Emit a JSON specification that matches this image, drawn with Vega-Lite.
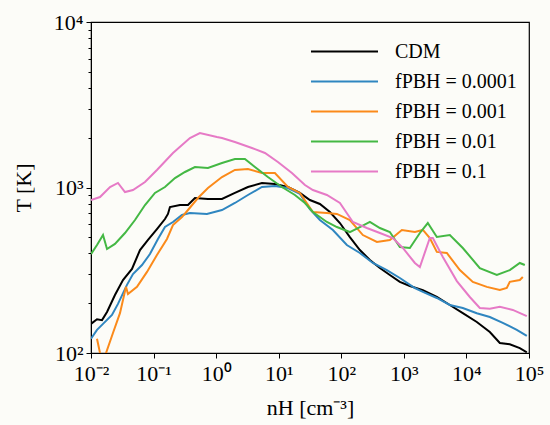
{
  "$schema": "https://vega.github.io/schema/vega-lite/v6.json",
  "width": 438,
  "height": 331,
  "autosize": "none",
  "padding": {"left": 91, "top": 22, "right": 21, "bottom": 72},
  "background": "#fcfcf8",
  "data": {"values": [
    {"s":"CDM","n":0.01,"T":150},{"s":"CDM","n":0.01247,"T":160},{"s":"CDM","n":0.015,"T":158},{"s":"CDM","n":0.01803,"T":177},{"s":"CDM","n":0.02415,"T":224},{"s":"CDM","n":0.03243,"T":276},{"s":"CDM","n":0.04519,"T":322},{"s":"CDM","n":0.06067,"T":419},{"s":"CDM","n":0.08147,"T":482},{"s":"CDM","n":0.1132,"T":561},{"s":"CDM","n":0.1521,"T":645},{"s":"CDM","n":0.1698,"T":692},{"s":"CDM","n":0.1828,"T":762},{"s":"CDM","n":0.2642,"T":784},{"s":"CDM","n":0.3548,"T":784},{"s":"CDM","n":0.4581,"T":864},{"s":"CDM","n":0.7396,"T":852},{"s":"CDM","n":1.239,"T":852},{"s":"CDM","n":1.995,"T":927},{"s":"CDM","n":3.221,"T":1007},{"s":"CDM","n":5.395,"T":1065},{"s":"CDM","n":8.69,"T":1050},{"s":"CDM","n":14.03,"T":1007},{"s":"CDM","n":21.83,"T":927},{"s":"CDM","n":31.48,"T":840},{"s":"CDM","n":45.5,"T":795},{"s":"CDM","n":65.77,"T":711},{"s":"CDM","n":95.06,"T":610},{"s":"CDM","n":137.1,"T":502},{"s":"CDM","n":198.2,"T":419},{"s":"CDM","n":286.4,"T":365},{"s":"CDM","n":414,"T":326},{"s":"CDM","n":597,"T":296},{"s":"CDM","n":863,"T":269},{"s":"CDM","n":1247,"T":254},{"s":"CDM","n":2014,"T":240},{"s":"CDM","n":3365,"T":218},{"s":"CDM","n":5433,"T":195},{"s":"CDM","n":8750,"T":174},{"s":"CDM","n":14655,"T":154},{"s":"CDM","n":23659,"T":134},{"s":"CDM","n":34198,"T":115},{"s":"CDM","n":49317,"T":113},{"s":"CDM","n":71285,"T":107},{"s":"CDM","n":92257,"T":101},
    {"s":"fPBH = 0.0001","n":0.01,"T":122},{"s":"fPBH = 0.0001","n":0.01247,"T":138},{"s":"fPBH = 0.0001","n":0.01556,"T":150},{"s":"fPBH = 0.0001","n":0.02163,"T":170},{"s":"fPBH = 0.0001","n":0.02698,"T":198},{"s":"fPBH = 0.0001","n":0.03758,"T":258},{"s":"fPBH = 0.0001","n":0.04688,"T":300},{"s":"fPBH = 0.0001","n":0.06531,"T":340},{"s":"fPBH = 0.0001","n":0.0875,"T":396},{"s":"fPBH = 0.0001","n":0.1175,"T":489},{"s":"fPBH = 0.0001","n":0.1521,"T":577},{"s":"fPBH = 0.0001","n":0.2042,"T":619},{"s":"fPBH = 0.0001","n":0.2844,"T":682},{"s":"fPBH = 0.0001","n":0.3811,"T":701},{"s":"fPBH = 0.0001","n":0.7129,"T":692},{"s":"fPBH = 0.0001","n":1.239,"T":731},{"s":"fPBH = 0.0001","n":1.995,"T":806},{"s":"fPBH = 0.0001","n":3.221,"T":901},{"s":"fPBH = 0.0001","n":5.395,"T":1007},{"s":"fPBH = 0.0001","n":8.69,"T":1021},{"s":"fPBH = 0.0001","n":14.03,"T":993},{"s":"fPBH = 0.0001","n":21.83,"T":914},{"s":"fPBH = 0.0001","n":31.48,"T":740},{"s":"fPBH = 0.0001","n":45.5,"T":636},{"s":"fPBH = 0.0001","n":73.45,"T":554},{"s":"fPBH = 0.0001","n":122.7,"T":449},{"s":"fPBH = 0.0001","n":198.2,"T":402},{"s":"fPBH = 0.0001","n":319.9,"T":350},{"s":"fPBH = 0.0001","n":534.6,"T":317},{"s":"fPBH = 0.0001","n":863,"T":284},{"s":"fPBH = 0.0001","n":1500,"T":247},{"s":"fPBH = 0.0001","n":2014,"T":234},{"s":"fPBH = 0.0001","n":3365,"T":215},{"s":"fPBH = 0.0001","n":5433,"T":195},{"s":"fPBH = 0.0001","n":8750,"T":187},{"s":"fPBH = 0.0001","n":14655,"T":174},{"s":"fPBH = 0.0001","n":23659,"T":165},{"s":"fPBH = 0.0001","n":38107,"T":152},{"s":"fPBH = 0.0001","n":63826,"T":138},{"s":"fPBH = 0.0001","n":92257,"T":127},
    {"s":"fPBH = 0.001","n":0.01247,"T":122},{"s":"fPBH = 0.001","n":0.01393,"T":100},{"s":"fPBH = 0.001","n":0.0155,"T":88},{"s":"fPBH = 0.001","n":0.01738,"T":100},{"s":"fPBH = 0.001","n":0.02244,"T":132},{"s":"fPBH = 0.001","n":0.02904,"T":174},{"s":"fPBH = 0.001","n":0.03622,"T":251},{"s":"fPBH = 0.001","n":0.03899,"T":227},{"s":"fPBH = 0.001","n":0.05433,"T":251},{"s":"fPBH = 0.001","n":0.07852,"T":309},{"s":"fPBH = 0.001","n":0.1132,"T":391},{"s":"fPBH = 0.001","n":0.1637,"T":489},{"s":"fPBH = 0.001","n":0.2042,"T":593},{"s":"fPBH = 0.001","n":0.2844,"T":663},{"s":"fPBH = 0.001","n":0.3548,"T":731},{"s":"fPBH = 0.001","n":0.5117,"T":864},{"s":"fPBH = 0.001","n":0.7396,"T":993},{"s":"fPBH = 0.001","n":1.239,"T":1157},{"s":"fPBH = 0.001","n":1.995,"T":1276},{"s":"fPBH = 0.001","n":3.221,"T":1294},{"s":"fPBH = 0.001","n":5.395,"T":1224},{"s":"fPBH = 0.001","n":8.69,"T":1224},{"s":"fPBH = 0.001","n":14.03,"T":1007},{"s":"fPBH = 0.001","n":21.83,"T":927},{"s":"fPBH = 0.001","n":35.16,"T":711},{"s":"fPBH = 0.001","n":58.88,"T":701},{"s":"fPBH = 0.001","n":85.11,"T":692},{"s":"fPBH = 0.001","n":137.1,"T":636},{"s":"fPBH = 0.001","n":221.3,"T":516},{"s":"fPBH = 0.001","n":370.7,"T":469},{"s":"fPBH = 0.001","n":597,"T":482},{"s":"fPBH = 0.001","n":929,"T":554},{"s":"fPBH = 0.001","n":1500,"T":538},{"s":"fPBH = 0.001","n":2014,"T":554},{"s":"fPBH = 0.001","n":2600,"T":495},{"s":"fPBH = 0.001","n":3365,"T":408},{"s":"fPBH = 0.001","n":4864,"T":402},{"s":"fPBH = 0.001","n":7852,"T":317},{"s":"fPBH = 0.001","n":12647,"T":269},{"s":"fPBH = 0.001","n":21184,"T":251},{"s":"fPBH = 0.001","n":34198,"T":240},{"s":"fPBH = 0.001","n":44157,"T":247},{"s":"fPBH = 0.001","n":49317,"T":269},{"s":"fPBH = 0.001","n":71285,"T":276},{"s":"fPBH = 0.001","n":79616,"T":288},
    {"s":"fPBH = 0.01","n":0.01,"T":396},{"s":"fPBH = 0.01","n":0.01247,"T":449},{"s":"fPBH = 0.01","n":0.01556,"T":516},{"s":"fPBH = 0.01","n":0.01803,"T":425},{"s":"fPBH = 0.01","n":0.02415,"T":456},{"s":"fPBH = 0.01","n":0.03491,"T":531},{"s":"fPBH = 0.01","n":0.05047,"T":636},{"s":"fPBH = 0.01","n":0.07295,"T":784},{"s":"fPBH = 0.01","n":0.1052,"T":927},{"s":"fPBH = 0.01","n":0.1521,"T":1007},{"s":"fPBH = 0.01","n":0.2198,"T":1141},{"s":"fPBH = 0.01","n":0.3177,"T":1241},{"s":"fPBH = 0.01","n":0.4581,"T":1330},{"s":"fPBH = 0.01","n":0.7396,"T":1312},{"s":"fPBH = 0.01","n":1.239,"T":1406},{"s":"fPBH = 0.01","n":1.995,"T":1487},{"s":"fPBH = 0.01","n":2.884,"T":1487},{"s":"fPBH = 0.01","n":4.169,"T":1330},{"s":"fPBH = 0.01","n":6.714,"T":1157},{"s":"fPBH = 0.01","n":11.25,"T":1007},{"s":"fPBH = 0.01","n":18.16,"T":901},{"s":"fPBH = 0.01","n":26.24,"T":806},{"s":"fPBH = 0.01","n":35.16,"T":711},{"s":"fPBH = 0.01","n":58.88,"T":619},{"s":"fPBH = 0.01","n":85.11,"T":577},{"s":"fPBH = 0.01","n":137.1,"T":538},{"s":"fPBH = 0.01","n":198.2,"T":577},{"s":"fPBH = 0.01","n":286.4,"T":619},{"s":"fPBH = 0.01","n":414,"T":569},{"s":"fPBH = 0.01","n":597,"T":538},{"s":"fPBH = 0.01","n":863,"T":437},{"s":"fPBH = 0.01","n":1247,"T":431},{"s":"fPBH = 0.01","n":1803,"T":531},{"s":"fPBH = 0.01","n":2415,"T":610},{"s":"fPBH = 0.01","n":3365,"T":502},{"s":"fPBH = 0.01","n":5433,"T":516},{"s":"fPBH = 0.01","n":8750,"T":431},{"s":"fPBH = 0.01","n":16368,"T":326},{"s":"fPBH = 0.01","n":30620,"T":296},{"s":"fPBH = 0.01","n":49317,"T":317},{"s":"fPBH = 0.01","n":71285,"T":350},{"s":"fPBH = 0.01","n":85704,"T":340},
    {"s":"fPBH = 0.1","n":0.01,"T":840},{"s":"fPBH = 0.1","n":0.01393,"T":876},{"s":"fPBH = 0.1","n":0.02014,"T":1007},{"s":"fPBH = 0.1","n":0.02698,"T":1065},{"s":"fPBH = 0.1","n":0.03491,"T":939},{"s":"fPBH = 0.1","n":0.04688,"T":966},{"s":"fPBH = 0.1","n":0.07295,"T":1079},{"s":"fPBH = 0.1","n":0.1132,"T":1276},{"s":"fPBH = 0.1","n":0.2042,"T":1616},{"s":"fPBH = 0.1","n":0.3811,"T":1991},{"s":"fPBH = 0.1","n":0.55,"T":2135},{"s":"fPBH = 0.1","n":1.03,"T":2019},{"s":"fPBH = 0.1","n":1.239,"T":1991},{"s":"fPBH = 0.1","n":1.995,"T":1884},{"s":"fPBH = 0.1","n":3.733,"T":1733},{"s":"fPBH = 0.1","n":6.026,"T":1616},{"s":"fPBH = 0.1","n":9.705,"T":1426},{"s":"fPBH = 0.1","n":16.26,"T":1224},{"s":"fPBH = 0.1","n":26.24,"T":1035},{"s":"fPBH = 0.1","n":35.16,"T":966},{"s":"fPBH = 0.1","n":58.88,"T":901},{"s":"fPBH = 0.1","n":95.06,"T":806},{"s":"fPBH = 0.1","n":153.1,"T":619},{"s":"fPBH = 0.1","n":256.4,"T":569},{"s":"fPBH = 0.1","n":414,"T":531},{"s":"fPBH = 0.1","n":666.8,"T":495},{"s":"fPBH = 0.1","n":963.9,"T":431},{"s":"fPBH = 0.1","n":1500,"T":350},{"s":"fPBH = 0.1","n":1803,"T":331},{"s":"fPBH = 0.1","n":2600,"T":495},{"s":"fPBH = 0.1","n":2904,"T":495},{"s":"fPBH = 0.1","n":4198,"T":380},{"s":"fPBH = 0.1","n":7031,"T":272},{"s":"fPBH = 0.1","n":11324,"T":218},{"s":"fPBH = 0.1","n":16368,"T":187},{"s":"fPBH = 0.1","n":23659,"T":185},{"s":"fPBH = 0.1","n":34198,"T":190},{"s":"fPBH = 0.1","n":55081,"T":182},{"s":"fPBH = 0.1","n":92257,"T":167}
  ]},
  "mark": {"type": "line", "strokeWidth": 2, "clip": true},
  "encoding": {
    "x": {"field": "n", "type": "quantitative",
      "scale": {"type": "log", "domain": [0.01, 100000], "nice": false},
      "axis": {"title": "nH [cm⁻³]", "values": [0.01, 0.1, 1, 10, 100, 1000, 10000, 100000],
        "labelExpr": "datum.value < 0.05 ? '10⁻²' : datum.value < 0.5 ? '10⁻¹' : datum.value < 5 ? '10⁰' : datum.value < 50 ? '10¹' : datum.value < 500 ? '10²' : datum.value < 5000 ? '10³' : datum.value < 50000 ? '10⁴' : '10⁵'",
        "tickSize": 5, "labelPadding": 5, "labelFlush": false, "labelOverlap": false, "titlePadding": 13}},
    "y": {"field": "T", "type": "quantitative",
      "scale": {"type": "log", "domain": [100, 10000], "nice": false},
      "axis": {"title": "T [K]", "values": [100,200,300,400,500,600,700,800,900,1000,2000,3000,4000,5000,6000,7000,8000,9000,10000],
        "labelExpr": "datum.value == 100 ? '10²' : datum.value == 1000 ? '10³' : datum.value == 10000 ? '10⁴' : ''",
        "tickSize": {"condition": {"test": "datum.value == 100 || datum.value == 1000 || datum.value == 10000", "value": 5}, "value": 3},
        "labelPadding": 3, "labelOverlap": false, "labelFlush": false, "titlePadding": 18}},
    "color": {"field": "s", "type": "nominal",
      "scale": {"domain": ["CDM", "fPBH = 0.0001", "fPBH = 0.001", "fPBH = 0.01", "fPBH = 0.1"],
        "range": ["#000000", "#2f86c0", "#fb8a1a", "#44b844", "#e67ac6"]},
      "legend": {"title": null, "orient": "none", "legendX": 241, "legendY": 17,
        "symbolType": "M-3,0H3", "symbolSize": 499, "symbolStrokeWidth": 2,
        "labelFontSize": 20, "labelOffset": 38, "rowPadding": 7, "labelFont": "Liberation Serif", "labelColor": "black"}}
  },
  "config": {
    "font": "Liberation Serif",
    "view": {"stroke": "black", "strokeWidth": 1.2},
    "axis": {"grid": false, "domainColor": "black", "tickColor": "black", "labelColor": "black", "titleColor": "black",
      "labelFont": "Liberation Serif", "titleFont": "Liberation Serif", "labelFontSize": 22, "titleFontSize": 22, "titleFontWeight": "normal"}
  }
}
